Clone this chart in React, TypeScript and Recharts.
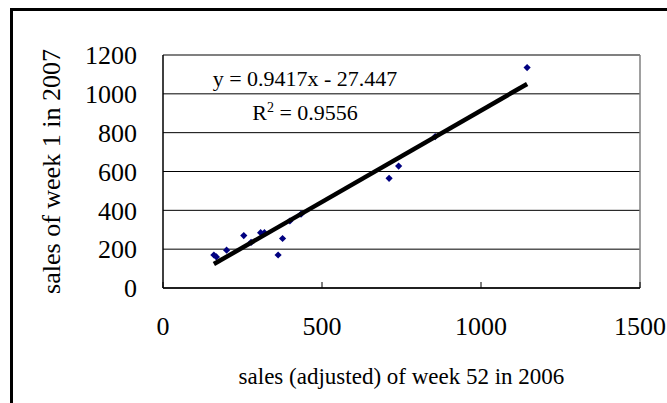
import React from "react";
import {
  CartesianGrid,
  ReferenceLine,
  Scatter,
  ScatterChart,
  XAxis,
  YAxis,
} from "recharts";

// week 52 (2006, adjusted) vs week 1 (2007) sales per item
const week52Sales = [160, 168, 200, 254, 277, 307, 319, 362, 376, 399, 434, 711, 741, 856, 1145];
const week1Sales = [170, 160, 195, 270, 235, 285, 285, 170, 255, 345, 380, 565, 628, 780, 1135];

const xTicks = [0, 500, 1000, 1500];
const yTicks = [0, 200, 400, 600, 800, 1000, 1200];

// linear trend line fitted in the spreadsheet
const SLOPE = 0.9417;
const INTERCEPT = -27.447;
const R_SQUARED = 0.9556;

const FONT = '"Liberation Serif", "Times New Roman", serif';

const points = week52Sales.map((x, i) => ({ x, y: week1Sales[i] }));
const xMin = Math.min(...week52Sales);
const xMax = Math.max(...week52Sales);
const trend = [
  { x: xMin, y: SLOPE * xMin + INTERCEPT },
  { x: xMax, y: SLOPE * xMax + INTERCEPT },
];

const Diamond = (props: any) => {
  const { cx, cy } = props;
  if (cx == null || cy == null) return null;
  const r = 3.6;
  return (
    <polygon
      points={`${cx},${cy - r} ${cx + r},${cy} ${cx},${cy + r} ${cx - r},${cy}`}
      fill="#000080"
    />
  );
};

const NoDot = () => null;

// bottom ticks: mark drawn upward into the plot, label underneath
const XTick = (props: any) => {
  const { x, y, payload } = props;
  return (
    <g>
      <line x1={x} y1={y - 12} x2={x} y2={y - 18} stroke="#000" strokeWidth={1} />
      <text x={x} y={y + 35} textAnchor="middle" fontFamily={FONT} fontSize={26} fill="#000">
        {payload.value}
      </text>
    </g>
  );
};

export default function App() {
  return (
    <div style={{ position: "absolute", left: 0, top: 0, width: 667, height: 403, background: "#fff" }}>
      <div
        style={{
          position: "absolute",
          left: 10,
          top: 8,
          width: 700,
          height: 420,
          border: "3px solid #000",
          boxSizing: "border-box",
        }}
      />
      <ScatterChart
        width={667}
        height={403}
        margin={{ top: 55, right: 27, bottom: 0, left: 103 }}
        style={{ position: "absolute", left: 0, top: 0 }}
      >
        <CartesianGrid horizontal vertical={false} stroke="#000" strokeWidth={1} />
        <XAxis
          type="number"
          dataKey="x"
          domain={[0, 1500]}
          ticks={xTicks}
          tickLine={false}
          tickSize={0}
          tickMargin={12}
          tick={<XTick />}
          axisLine={{ stroke: "#000", strokeWidth: 1.5 }}
          height={115}
          label={{
            value: "sales (adjusted) of week 52 in 2006",
            position: "insideTop",
            offset: 80,
            fontFamily: FONT,
            fontSize: 23,
            fill: "#000",
          }}
        />
        <YAxis
          type="number"
          dataKey="y"
          domain={[0, 1200]}
          ticks={yTicks}
          tickLine={false}
          tickMargin={20}
          width={60}
          axisLine={{ stroke: "#000", strokeWidth: 1.5 }}
          tick={{ fontFamily: FONT, fontSize: 26, fill: "#000" }}
          label={{
            value: "sales of week 1 in 2007",
            angle: -90,
            position: "left",
            offset: 52,
            fontFamily: FONT,
            fontSize: 26,
            fill: "#000",
            style: { textAnchor: "middle" },
          }}
        />
        <ReferenceLine y={1200} stroke="#808080" strokeWidth={1.5} />
        <ReferenceLine x={1500} stroke="#808080" strokeWidth={1.5} />
        <Scatter data={points} shape={<Diamond />} isAnimationActive={false} />
        <Scatter
          data={trend}
          line={{ stroke: "#000", strokeWidth: 4.5 }}
          shape={<NoDot />}
          isAnimationActive={false}
        />
      </ScatterChart>
      <svg width={667} height={403} style={{ position: "absolute", left: 0, top: 0, pointerEvents: "none" }}>
        <text x={305} y={86} textAnchor="middle" fontFamily={FONT} fontSize={22} fill="#000">
          {`y = ${SLOPE}x - ${Math.abs(INTERCEPT)}`}
        </text>
        <text x={305} y={120} textAnchor="middle" fontFamily={FONT} fontSize={22} fill="#000">
          R<tspan dy={-8} fontSize={14}>2</tspan>
          <tspan dy={8}>{` = ${R_SQUARED}`}</tspan>
        </text>
      </svg>
    </div>
  );
}
